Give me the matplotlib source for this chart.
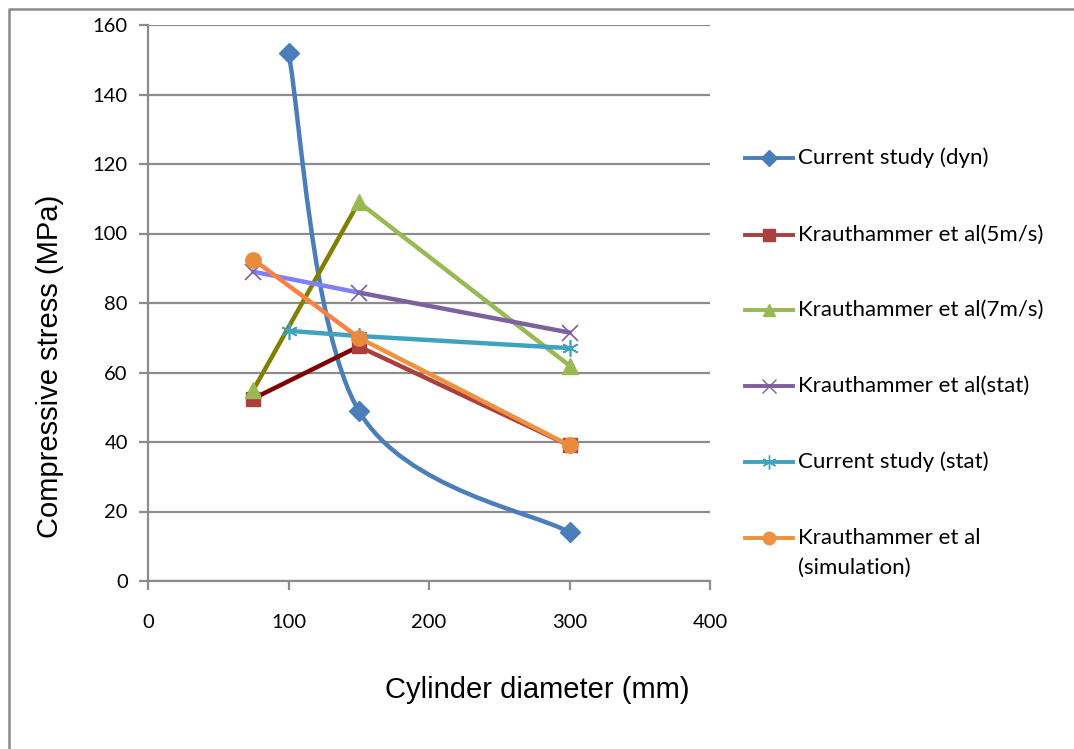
import numpy as np
import matplotlib.pyplot as plt
from matplotlib.lines import Line2D
from matplotlib.path import Path
from matplotlib.patches import PathPatch

# data
dyn_x = [100, 150, 300]
dyn_y = [152, 49, 14]
k5_x = [75, 150, 300]
k5_y = [52.5, 67.5, 39]
k7_x = [75, 150, 300]
k7_y = [55, 109, 62]
kstat_x = [75, 150, 300]
kstat_y = [89, 83, 71.5]
cstat_x = [100, 150, 300]
cstat_y = [72, 70.5, 67]
sim_x = [75, 150, 300]
sim_y = [92.5, 70, 39]

labels = ['Current study (dyn)', 'Krauthammer et al(5m/s)', 'Krauthammer et al(7m/s)',
          'Krauthammer et al(stat)', 'Current study (stat)', 'Krauthammer et al\n(simulation)']
x_ticks = [0, 100, 200, 300, 400]
y_ticks = [0, 20, 40, 60, 80, 100, 120, 140, 160]

TICK_FONT = 'Lato'
LABEL_FONT = 'Liberation Sans'
GRID = '#8c8c8c'

W, H = 1074, 749


def fx(px):
    return px / W


def fy(py):
    return 1 - py / H


def smooth_path(x, y):
    # Excel style smoothed line: cubic bezier through the points (catmull-rom tangents)
    pts = np.column_stack([x, y]).astype(float)
    n = len(pts)
    verts = [pts[0]]
    codes = [Path.MOVETO]
    for i in range(n - 1):
        p0 = pts[i - 1] if i > 0 else pts[i]
        p1 = pts[i]
        p2 = pts[i + 1]
        p3 = pts[i + 2] if i + 2 < n else pts[i + 1]
        c1 = p1 + (p2 - p0) / 6
        c2 = p2 - (p3 - p1) / 6
        verts += [c1, c2, p2]
        codes += [Path.CURVE4] * 3
    return Path(verts, codes)


fig = plt.figure(figsize=(W / 100, H / 100), dpi=100)
ax = fig.add_axes([fx(148), fy(581), (710 - 148) / W, (581 - 25) / H])

ax.set_xlim(0, 400)
ax.set_ylim(0, 160)
ax.set_xticks(x_ticks)
ax.set_yticks(y_ticks)
ax.grid(axis='y', color=GRID, lw=1.6)
ax.set_axisbelow(True)
for s in ['top', 'right']:
    ax.spines[s].set_visible(False)
for s in ['left', 'bottom']:
    ax.spines[s].set_color(GRID)
    ax.spines[s].set_linewidth(1.6)
ax.tick_params(axis='both', direction='out', length=6.5, width=1.6, color=GRID)
ax.tick_params(axis='y', pad=8)
ax.tick_params(axis='x', pad=17)
for lab in ax.get_xticklabels() + ax.get_yticklabels():
    lab.set_fontfamily(TICK_FONT)
    lab.set_fontsize(14.5)

lw = 3.2
# current study (dyn) - smoothed
ax.add_patch(PathPatch(smooth_path(dyn_x, dyn_y), fill=False, edgecolor='#4A7EBB', lw=lw, zorder=3))
ax.plot(dyn_x, dyn_y, 'D', color='#4A7EBB', ms=10, zorder=3)

# krauthammer 5 m/s
ax.plot(k5_x[1:], k5_y[1:], '-', color='#A9403D', lw=lw, zorder=4)
ax.plot(k5_x[:2], k5_y[:2], '-', color='#800000', lw=lw, zorder=4)
ax.plot(k5_x, k5_y, 's', color='#AA403D', ms=10, zorder=4)

# krauthammer 7 m/s
ax.plot(k7_x[1:], k7_y[1:], '-', color='#98B954', lw=lw, zorder=5)
ax.plot(k7_x[:2], k7_y[:2], '-', color='#808000', lw=lw, zorder=5)
ax.plot(k7_x, k7_y, '^', color='#98B954', ms=11, zorder=5)

# krauthammer stat
ax.plot(kstat_x[1:], kstat_y[1:], '-', color='#7D60A0', lw=lw, zorder=6)
ax.plot(kstat_x[:2], kstat_y[:2], '-', color='#8080FF', lw=lw, zorder=6)
ax.plot(kstat_x, kstat_y, 'x', color='#7D60A0', ms=11, mew=1.2, zorder=6)

# current study stat
ax.plot(cstat_x, cstat_y, '-', color='#3FA3BF', lw=lw, zorder=7)
ax.plot(cstat_x, cstat_y, marker=(6, 2, 0), ls='none', color='#3FA3BF', ms=12, mew=1.2, zorder=7)

# krauthammer simulation
ax.plot(sim_x[1:], sim_y[1:], '-', color='#F0913F', lw=lw, zorder=8)
ax.plot(sim_x[:2], sim_y[:2], '-', color='#FF8040', lw=lw, zorder=8)
ax.plot(sim_x, sim_y, 'o', color='#E98A3C', ms=11, zorder=8)

# axis titles
fig.text(fx(537), fy(690), 'Cylinder diameter (mm)', family=LABEL_FONT, fontsize=21,
         ha='center', va='center')
fig.text(fx(50), fy(366), 'Compressive stress (MPa)', family=LABEL_FONT, fontsize=21,
         ha='center', va='center', rotation=90)

# legend drawn by hand so the two-line label lines up like the original
leg_colors = ['#4A7EBB', '#A9403D', '#98B954', '#7D60A0', '#3FA3BF', '#F0913F']
leg_markers = ['D', 's', '^', 'x', (6, 2, 0), 'o']
leg_ms = [8, 8.5, 9, 10, 10, 9]
leg_y = [158, 235, 310, 386, 462, 538]
for lab, c, m, ms, y in zip(labels, leg_colors, leg_markers, leg_ms, leg_y):
    fig.add_artist(Line2D([fx(745), fx(793)], [fy(y), fy(y)], color=c, lw=2.8,
                          transform=fig.transFigure))
    fig.add_artist(Line2D([fx(769)], [fy(y)], marker=m, color=c, ms=ms, mew=1.0,
                          ls='none', transform=fig.transFigure))
    for i, line in enumerate(lab.split('\n')):
        fig.text(fx(798), fy(y + 30 * i), line, family=TICK_FONT, fontsize=16,
                 ha='left', va='center')

# outer chart border (left and top only visible)
fig.add_artist(Line2D([fx(8.5), fx(8.5), fx(W)], [fy(H), fy(8.5), fy(8.5)],
                      color='#8a8a8a', lw=1.8, transform=fig.transFigure))

fig.savefig('out.png', dpi=100)
